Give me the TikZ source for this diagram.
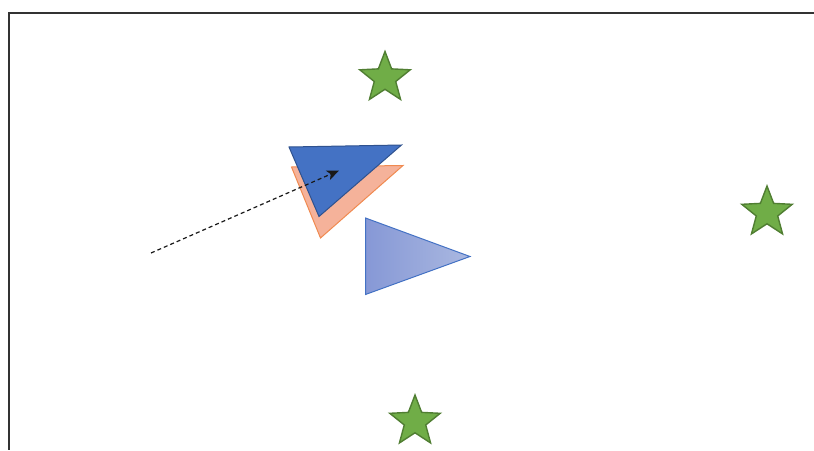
\documentclass[tikz,border=0pt]{standalone}
\usetikzlibrary{shapes.geometric,arrows.meta}
\definecolor{stargreen}{HTML}{70AD47}
\definecolor{stardark}{HTML}{507E32}
\definecolor{pblue}{HTML}{4472C4}
\definecolor{pbluedark}{HTML}{2F528F}
\definecolor{porange}{HTML}{F5B29A}
\definecolor{porangedark}{HTML}{F08A50}
\definecolor{lblueL}{HTML}{8698D6}
\definecolor{lblueR}{HTML}{AAB8E0}
\tikzset{
  greenstar/.style={star, star points=5, star point ratio=2.35, minimum size=53pt, inner sep=0pt,
    fill=stargreen, draw=stardark, line width=1.4pt},
  framebar/.style={draw=black!80, line width=2pt},
  moveline/.style={dashed, dash pattern=on 4pt off 3pt, line width=1.2pt, draw=black!90, -{Stealth[length=12pt,width=10pt,inset=3pt]}}
}
\begin{document}
\begin{tikzpicture}[x=1pt,y=-1pt]
\useasboundingbox (0,0) rectangle (814,450);
% frame
\coordinate (fR) at (814,12.5);
\coordinate (fC) at (8.5,12.5);
\coordinate (fB) at (8.5,450);
\draw[framebar] (fR) -- (fC) -- (fB);
% orange triangle (behind)
\coordinate (o1) at (291.5,167);
\coordinate (o2) at (403,165.5);
\coordinate (o3) at (320.5,238);
\fill[porange] (o1) -- (o2) -- (o3) -- cycle;
\draw[porangedark, line width=1pt, line join=miter] (o1) -- (o2) -- (o3) -- cycle;
% dark blue triangle
\coordinate (b1) at (289,147);
\coordinate (b2) at (401.5,145);
\coordinate (b3) at (319,216.5);
\draw[fill=pblue, draw=pbluedark, line width=1pt] (b1) -- (b2) -- (b3) -- cycle;
% light blue gradient triangle
\coordinate (l1) at (365.5,218);
\coordinate (l2) at (470,256.5);
\coordinate (l3) at (365.5,294.5);
\shade[left color=lblueL, right color=lblueR] (l1) -- (l2) -- (l3) -- cycle;
\draw[pblue, line width=1pt] (l1) -- (l2) -- (l3) -- cycle;
% dashed arrow
\coordinate (aS) at (151,253);
\coordinate (aE) at (339,170.5);
\draw[moveline] (aS) -- (aE);
% stars
\node[greenstar] (sTop) at (385,78) {};
\node[greenstar] (sRight) at (767,212.5) {};
\node[greenstar] (sBot) at (415,421.5) {};
\end{tikzpicture}
\end{document}
